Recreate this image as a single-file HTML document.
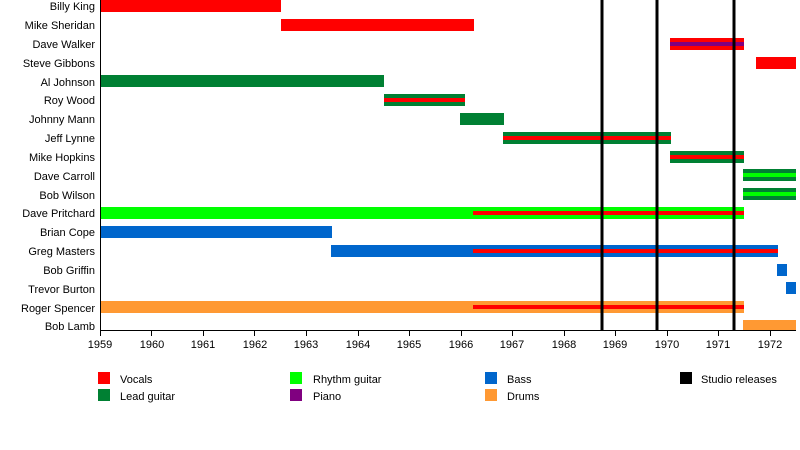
<!DOCTYPE html>
<html><head><style>body{margin:0;background:#fff}svg{display:block}text{font-family:"Liberation Sans",sans-serif;font-size:11px;fill:#000}</style></head><body>
<svg width="800" height="450" xmlns="http://www.w3.org/2000/svg">
<g text-anchor="end">
<text x="95" y="10">Billy King</text><text x="95" y="29">Mike Sheridan</text><text x="95" y="48">Dave Walker</text><text x="95" y="67">Steve Gibbons</text><text x="95" y="86">Al Johnson</text><text x="95" y="104">Roy Wood</text><text x="95" y="123">Johnny Mann</text><text x="95" y="142">Jeff Lynne</text><text x="95" y="161">Mike Hopkins</text><text x="95" y="180">Dave Carroll</text><text x="95" y="199">Bob Wilson</text><text x="95" y="217">Dave Pritchard</text><text x="95" y="236">Brian Cope</text><text x="95" y="255">Greg Masters</text><text x="95" y="274">Bob Griffin</text><text x="95" y="293">Trevor Burton</text><text x="95" y="312">Roger Spencer</text><text x="95" y="330">Bob Lamb</text>
</g>
<g>
<rect x="100" y="0" width="181" height="12" fill="#f00"/>
<rect x="281" y="19" width="193" height="12" fill="#f00"/>
<rect x="670" y="38" width="74" height="12" fill="#f00"/><rect x="670" y="42" width="74" height="4" fill="#800080"/>
<rect x="756" y="57" width="40" height="12" fill="#f00"/>
<rect x="100" y="75" width="284" height="12" fill="#008033"/>
<rect x="384" y="94" width="81" height="12" fill="#008033"/><rect x="384" y="98" width="81" height="4" fill="#f00"/>
<rect x="460" y="113" width="44" height="12" fill="#008033"/>
<rect x="503" y="132" width="168" height="12" fill="#008033"/><rect x="503" y="136" width="168" height="4" fill="#f00"/>
<rect x="670" y="151" width="74" height="12" fill="#008033"/><rect x="670" y="155" width="74" height="4" fill="#f00"/>
<rect x="743" y="169" width="53" height="12" fill="#008033"/><rect x="743" y="173" width="53" height="4" fill="#0f0"/>
<rect x="743" y="188" width="53" height="12" fill="#008033"/><rect x="743" y="192" width="53" height="4" fill="#0f0"/>
<rect x="100" y="207" width="644" height="12" fill="#0f0"/><rect x="473" y="211" width="271" height="4" fill="#f00"/>
<rect x="100" y="226" width="232" height="12" fill="#0066cc"/>
<rect x="331" y="245" width="447" height="12" fill="#0066cc"/><rect x="473" y="249" width="305" height="4" fill="#f00"/>
<rect x="777" y="264" width="10" height="12" fill="#0066cc"/>
<rect x="786" y="282" width="10" height="12" fill="#0066cc"/>
<rect x="100" y="301" width="644" height="12" fill="#f93"/><rect x="473" y="305" width="271" height="4" fill="#f00"/>
<rect x="743" y="320" width="53" height="11" fill="#f93"/>
</g>
<rect x="600.5" y="0" width="3" height="331" fill="#000"/>
<rect x="655.5" y="0" width="3" height="331" fill="#000"/>
<rect x="732.5" y="0" width="3" height="331" fill="#000"/>
<line x1="100" y1="330.5" x2="796" y2="330.5" stroke="#000"/>
<line x1="100.5" y1="0" x2="100.5" y2="331" stroke="#000"/>
<g stroke="#000">
<line x1="100.5" y1="330" x2="100.5" y2="336"/><line x1="151.5" y1="330" x2="151.5" y2="336"/><line x1="203.5" y1="330" x2="203.5" y2="336"/><line x1="254.5" y1="330" x2="254.5" y2="336"/><line x1="306.5" y1="330" x2="306.5" y2="336"/><line x1="358.5" y1="330" x2="358.5" y2="336"/><line x1="409.5" y1="330" x2="409.5" y2="336"/><line x1="461.5" y1="330" x2="461.5" y2="336"/><line x1="512.5" y1="330" x2="512.5" y2="336"/><line x1="564.5" y1="330" x2="564.5" y2="336"/><line x1="615.5" y1="330" x2="615.5" y2="336"/><line x1="667.5" y1="330" x2="667.5" y2="336"/><line x1="718.5" y1="330" x2="718.5" y2="336"/><line x1="770.5" y1="330" x2="770.5" y2="336"/>
</g>
<g text-anchor="middle">
<text x="100" y="348">1959</text><text x="152" y="348">1960</text><text x="203" y="348">1961</text><text x="255" y="348">1962</text><text x="306" y="348">1963</text><text x="358" y="348">1964</text><text x="409" y="348">1965</text><text x="461" y="348">1966</text><text x="512" y="348">1967</text><text x="564" y="348">1968</text><text x="615" y="348">1969</text><text x="667" y="348">1970</text><text x="718" y="348">1971</text><text x="770" y="348">1972</text>
</g>
<rect x="98" y="372" width="12" height="12" fill="#f00"/><text x="120" y="383">Vocals</text>
<rect x="98" y="389" width="12" height="12" fill="#008033"/><text x="120" y="400">Lead guitar</text>
<rect x="290" y="372" width="12" height="12" fill="#0f0"/><text x="313" y="383">Rhythm guitar</text>
<rect x="290" y="389" width="12" height="12" fill="#800080"/><text x="313" y="400">Piano</text>
<rect x="485" y="372" width="12" height="12" fill="#0066cc"/><text x="507" y="383">Bass</text>
<rect x="485" y="389" width="12" height="12" fill="#f93"/><text x="507" y="400">Drums</text>
<rect x="680" y="372" width="12" height="12" fill="#000"/><text x="701" y="383">Studio releases</text>
</svg>
</body></html>
